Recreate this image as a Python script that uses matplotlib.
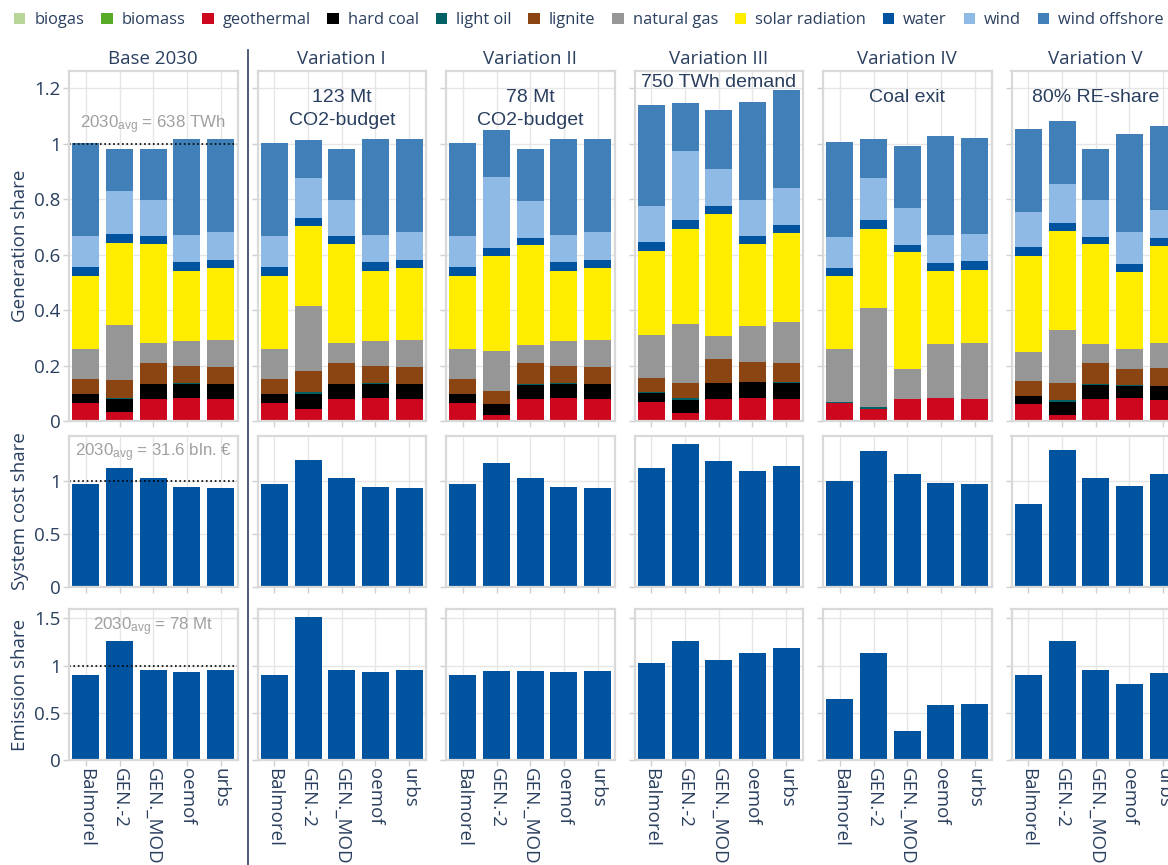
import numpy as np
import matplotlib
matplotlib.use("Agg")
import matplotlib.pyplot as plt
from matplotlib.patches import Patch
from matplotlib.lines import Line2D
from matplotlib.ticker import FuncFormatter

plt.rcParams['font.family'] = ['Open Sans', 'DejaVu Sans']
plt.rcParams['mathtext.default'] = 'regular'

TXT = '#2a3f5f'

# --- data ---------------------------------------------------------------
models = ['Balmorel', 'GEN.-2', 'GEN._MOD', 'oemof', 'urbs']
scenarios = ['Base 2030', 'Variation I', 'Variation II', 'Variation III',
             'Variation IV', 'Variation V']
notes = ['', '123 Mt\nCO2-budget', '78 Mt\nCO2-budget', '750 TWh demand',
         'Coal exit', '80% RE-share']

carriers = ['biogas', 'biomass', 'geothermal', 'hard coal', 'light oil', 'lignite',
            'natural gas', 'solar radiation', 'water', 'wind', 'wind offshore']
colors = ['#b8d698', '#57ab27', '#cc071e', '#000000', '#006165', '#8b4513',
          '#969696', '#ffed00', '#00549f', '#8ebae5', '#407fb7']

# generation share, rows follow `carriers`, columns follow `models`
gen_base = [
    [0, 0, 0, 0, 0],
    [0, 0, 0, 0, 0],
    [0.065, 0.033, 0.080, 0.083, 0.080],
    [0.033, 0.047, 0.054, 0.051, 0.054],
    [0, 0.003, 0, 0.003, 0],
    [0.054, 0.065, 0.076, 0.062, 0.061],
    [0.108, 0.199, 0.072, 0.090, 0.098],
    [0.264, 0.296, 0.358, 0.253, 0.260],
    [0.033, 0.033, 0.029, 0.033, 0.029],
    [0.112, 0.155, 0.130, 0.097, 0.101],
    [0.336, 0.149, 0.184, 0.347, 0.333],
]
gen_var1 = [
    [0, 0, 0, 0, 0],
    [0, 0, 0, 0, 0],
    [0.065, 0.043, 0.080, 0.083, 0.080],
    [0.033, 0.054, 0.054, 0.051, 0.054],
    [0, 0.007, 0, 0.003, 0],
    [0.054, 0.076, 0.076, 0.062, 0.061],
    [0.108, 0.235, 0.072, 0.090, 0.098],
    [0.264, 0.289, 0.358, 0.253, 0.260],
    [0.033, 0.029, 0.029, 0.033, 0.029],
    [0.112, 0.144, 0.130, 0.097, 0.101],
    [0.336, 0.138, 0.184, 0.347, 0.333],
]
gen_var2 = [
    [0, 0, 0, 0, 0],
    [0, 0, 0, 0, 0],
    [0.065, 0.022, 0.080, 0.083, 0.080],
    [0.033, 0.040, 0.050, 0.051, 0.054],
    [0, 0, 0.004, 0.003, 0],
    [0.054, 0.047, 0.076, 0.062, 0.061],
    [0.108, 0.145, 0.065, 0.090, 0.098],
    [0.264, 0.340, 0.361, 0.253, 0.260],
    [0.033, 0.029, 0.025, 0.033, 0.029],
    [0.112, 0.256, 0.134, 0.097, 0.101],
    [0.336, 0.170, 0.188, 0.347, 0.333],
]
gen_var3 = [
    [0, 0, 0, 0, 0],
    [0, 0, 0, 0, 0],
    [0.069, 0.029, 0.080, 0.083, 0.080],
    [0.032, 0.047, 0.057, 0.058, 0.057],
    [0.004, 0.007, 0, 0, 0.004],
    [0.050, 0.054, 0.087, 0.072, 0.069],
    [0.156, 0.214, 0.081, 0.130, 0.148],
    [0.303, 0.343, 0.443, 0.297, 0.322],
    [0.033, 0.033, 0.029, 0.029, 0.028],
    [0.130, 0.249, 0.134, 0.130, 0.134],
    [0.362, 0.170, 0.213, 0.354, 0.354],
]
gen_var4 = [
    [0, 0, 0, 0, 0],
    [0, 0.004, 0, 0, 0],
    [0.065, 0.039, 0.080, 0.083, 0.080],
    [0, 0, 0, 0, 0],
    [0.005, 0.008, 0, 0, 0],
    [0, 0, 0, 0, 0],
    [0.190, 0.357, 0.108, 0.195, 0.202],
    [0.264, 0.286, 0.423, 0.264, 0.264],
    [0.029, 0.033, 0.025, 0.029, 0.032],
    [0.112, 0.151, 0.134, 0.101, 0.098],
    [0.343, 0.141, 0.224, 0.355, 0.347],
]
gen_var5 = [
    [0, 0, 0, 0, 0],
    [0, 0, 0, 0, 0],
    [0.061, 0.022, 0.080, 0.083, 0.076],
    [0.029, 0.047, 0.050, 0.044, 0.051],
    [0, 0.007, 0.004, 0.004, 0],
    [0.055, 0.061, 0.076, 0.057, 0.065],
    [0.104, 0.192, 0.068, 0.072, 0.090],
    [0.347, 0.358, 0.362, 0.279, 0.351],
    [0.033, 0.029, 0.025, 0.028, 0.028],
    [0.126, 0.141, 0.134, 0.116, 0.102],
    [0.297, 0.227, 0.184, 0.354, 0.303],
]
gen_shares = [gen_base, gen_var1, gen_var2, gen_var3, gen_var4, gen_var5]

# rows follow `scenarios`, columns follow `models`
system_cost = [
    [0.971, 1.124, 1.029, 0.943, 0.933],
    [0.971, 1.200, 1.029, 0.943, 0.933],
    [0.971, 1.171, 1.029, 0.943, 0.933],
    [1.124, 1.352, 1.190, 1.095, 1.143],
    [1.000, 1.286, 1.067, 0.981, 0.971],
    [0.781, 1.295, 1.029, 0.952, 1.067],
]
emissions = [
    [0.897, 1.259, 0.950, 0.929, 0.950],
    [0.897, 1.514, 0.950, 0.929, 0.950],
    [0.897, 0.940, 0.940, 0.929, 0.940],
    [1.025, 1.259, 1.057, 1.131, 1.184],
    [0.642, 1.131, 0.312, 0.578, 0.589],
    [0.897, 1.259, 0.950, 0.801, 0.918],
]
avg_labels = ['2030$_{avg}$ = 638 TWh', '2030$_{avg}$ = 31.6 bln. €',
              '2030$_{avg}$ = 78 Mt']
row_labels = ['Generation share', 'System cost share', 'Emission share']
row_ticks = [[0, 0.2, 0.4, 0.6, 0.8, 1, 1.2], [0, 0.5, 1], [0, 0.5, 1, 1.5]]

# --- layout (pixels) ----------------------------------------------------
W, H = 1168, 865
fig = plt.figure(figsize=(W / 100, H / 100), dpi=100)
col_left = [69, 257.5, 446, 634.5, 823, 1011.5]
col_w = 168.5
rows = [(70.7, 421), (435.7, 586.7), (609, 760)]
avg_y = [1.07, 1.265, 1.41]

x = np.arange(len(models))
gen_top = max(np.array(g).sum(axis=0).max() for g in gen_shares)
row_max = [gen_top * 1.057, np.max(system_cost) * 1.057, np.max(emissions) * 1.057]
fmt = FuncFormatter(lambda v, p: f'{v:g}')


def style(ax, r, first):
    ax.set_xlim(-0.5, 4.5)
    ax.set_ylim(0, row_max[r])
    ax.set_xticks(x)
    ax.set_yticks(row_ticks[r])
    ax.yaxis.set_major_formatter(fmt)
    ax.grid(True, color='#e6e6e6', lw=1)
    ax.set_axisbelow(True)
    for s in ax.spines.values():
        s.set_color('#d9d9d9')
        s.set_linewidth(1.6)
    ax.tick_params(length=4, width=1, color='#d0d0d0', labelcolor=TXT,
                   labelsize=13.5, pad=2)
    if not first:
        ax.set_yticklabels([])
    if r < 2:
        ax.set_xticklabels([])
    else:
        ax.set_xticklabels(models, rotation=-90, va='top', ha='center')


for c, scen in enumerate(scenarios):
    for r, (y0, y1) in enumerate(rows):
        ax = fig.add_axes([col_left[c] / W, 1 - y1 / H, col_w / W, (y1 - y0) / H])
        style(ax, r, c == 0)
        if r == 0:
            bottom = np.zeros(len(models))
            for vals, col in zip(gen_shares[c], colors):
                ax.bar(x, vals, 0.8, bottom=bottom, color=col, lw=0)
                bottom += np.array(vals)
            ax.set_title(scen, fontsize=13.5, color=TXT, pad=5)
            if notes[c]:
                ax.text(0.5, 0.99 if c == 3 else 0.948, notes[c], transform=ax.transAxes,
                        ha='center', va='top', fontsize=14, color=TXT,
                        family=['Liberation Sans', 'DejaVu Sans'], linespacing=1.45)
        else:
            vals = system_cost[c] if r == 1 else emissions[c]
            ax.bar(x, vals, 0.8, color='#00549f', lw=0)
        if c == 0:
            ax.axhline(1, color='black', ls=':', lw=1.2)
            ax.text(2, avg_y[r], avg_labels[r], ha='center', va='center', fontsize=12.2,
                    color='#a0a0a0', family=['Liberation Sans', 'DejaVu Sans'])
            fig.text(20 / W, 1 - (y0 + y1) / 2 / H, row_labels[r], rotation=90,
                     ha='center', va='center', fontsize=13.5, color=TXT)

# separator between base and variations
fig.add_artist(Line2D([247.5 / W] * 2, [0, 1 - 50 / H], transform=fig.transFigure,
                      color=TXT, lw=1.2))

handles = [Patch(facecolor=col, edgecolor='none') for col in colors]
fig.legend(handles, carriers, loc='center left', bbox_to_anchor=(14 / W, 1 - 20 / H),
           ncol=len(carriers), frameon=False, fontsize=11.8, handlelength=0.7,
           handleheight=0.7, handletextpad=0.55, columnspacing=1.02,
           borderpad=0, borderaxespad=0, labelcolor=TXT)

fig.savefig('out.png', dpi=100)
